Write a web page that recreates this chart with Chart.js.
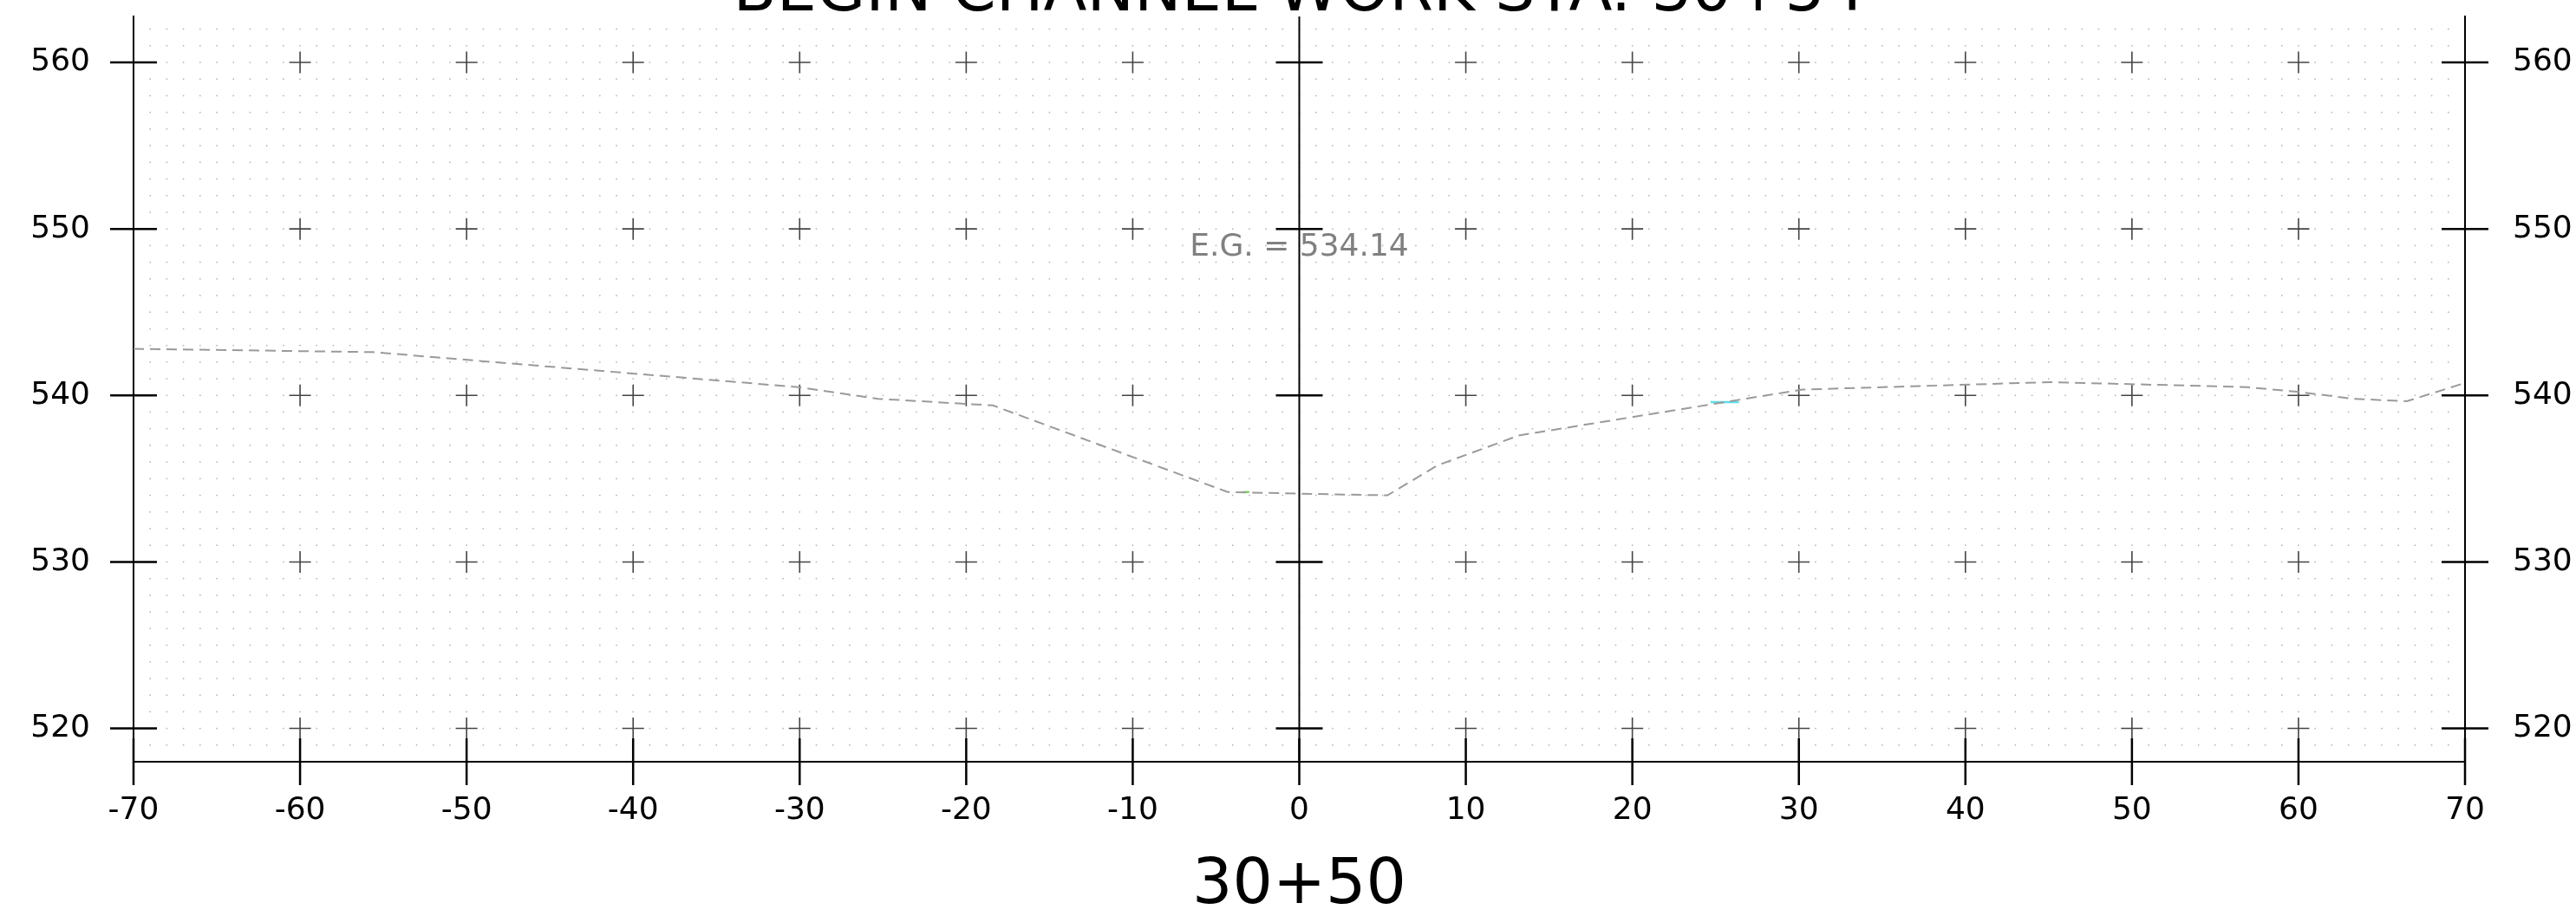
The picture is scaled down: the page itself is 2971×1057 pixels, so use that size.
<!DOCTYPE html>
<html>
<head>
<meta charset="utf-8">
<script src="https://cdn.jsdelivr.net/npm/chart.js@4.4.1/dist/chart.umd.min.js"></script>
<style>
  body { margin: 0; background: #fff; }
  canvas { display: block; }
</style>
</head>
<body>
<canvas id="section" width="2971" height="1057"></canvas>
<script>
// tick labels
const xTicks = [-70, -60, -50, -40, -30, -20, -10, 0, 10, 20, 30, 40, 50, 60, 70];
const yTicks = [520, 530, 540, 550, 560];

// existing ground profile (offset, elevation)
const groundX = [-70, -55.6, -30.1, -25.3, -18.4, -4.3, 0, 5.3, 8.3, 13.2, 30.2, 45.1, 56.9, 60.1, 63.3, 66.5, 70];
const groundY = [542.8, 542.6, 540.5, 539.8, 539.4, 534.2, 534.1, 534.0, 535.8, 537.6, 540.35, 540.8, 540.5, 540.2, 539.8, 539.65, 540.75];

// short water mark and low point mark
const waterX = [24.7, 26.4];
const waterY = [539.6, 539.6];
const lowX = [-3.4, -3.0];
const lowY = [534.2, 534.2];

const titleText = 'BEGIN CHANNEL WORK STA. 30+54';
const stationText = '30+50';
const egText = 'E.G. = 534.14';
const egX = 0;
const egY = 548.9;

function pts(xs, ys) {
    return xs.map((v, i) => ({x: v, y: ys[i]}));
}

Chart.defaults.font.family = 'DejaVu Sans';
Chart.defaults.color = '#000';

// dot grid, crosses, centre line and the double sided ticks
const sheet = {
    id: 'sheet',
    beforeDatasetsDraw(chart) {
        const ctx = chart.ctx;
        const x = chart.scales.x, y = chart.scales.y;
        ctx.save();
        ctx.fillStyle = '#b0b0b0';
        for (let gx = -69; gx <= 69; gx++) {
            for (let gy = 519; gy <= 562; gy++) {
                ctx.fillRect(x.getPixelForValue(gx) - 0.75, y.getPixelForValue(gy) - 0.75, 1.5, 1.5);
            }
        }
        ctx.strokeStyle = '#444';
        ctx.lineWidth = 1.6;
        xTicks.forEach(tx => {
            if (tx === 0 || tx === -70 || tx === 70) return;
            yTicks.forEach(ty => {
                const px = x.getPixelForValue(tx), py = y.getPixelForValue(ty);
                ctx.beginPath();
                ctx.moveTo(px - 12.5, py); ctx.lineTo(px + 12.5, py);
                ctx.moveTo(px, py - 12.5); ctx.lineTo(px, py + 12.5);
                ctx.stroke();
            });
        });
        ctx.restore();
    },
    afterDatasetsDraw(chart) {
        const ctx = chart.ctx;
        const x = chart.scales.x, y = chart.scales.y;
        const area = chart.chartArea;
        const x0 = x.getPixelForValue(0);
        ctx.save();
        ctx.strokeStyle = '#000';
        ctx.lineWidth = 2;
        ctx.beginPath();
        ctx.moveTo(x0, area.top); ctx.lineTo(x0, area.bottom);
        ctx.stroke();
        ctx.lineWidth = 2.5;
        ctx.beginPath();
        xTicks.forEach(tx => {
            const px = x.getPixelForValue(tx);
            ctx.moveTo(px, area.bottom - 27); ctx.lineTo(px, area.bottom + 27);
        });
        yTicks.forEach(ty => {
            const py = y.getPixelForValue(ty);
            [area.left, x0, area.right].forEach(ax => {
                ctx.moveTo(ax - 27, py); ctx.lineTo(ax + 27, py);
            });
        });
        ctx.stroke();

        ctx.textAlign = 'center';
        ctx.textBaseline = 'middle';
        ctx.fillStyle = '#808080';
        ctx.font = '36px "DejaVu Sans"';
        ctx.fillText(egText, x.getPixelForValue(egX), y.getPixelForValue(egY));

        ctx.fillStyle = '#000';
        ctx.font = '73px "DejaVu Sans"';
        ctx.textBaseline = 'alphabetic';
        ctx.fillText(titleText, x0, 12);
        ctx.fillText(stationText, x0, 1042);
        ctx.restore();
    }
};

const ctx = document.getElementById('section');

const yScale = (pos, w, gap) => ({
    type: 'linear',
    position: pos,
    min: 518,
    max: 562.76,
    afterFit: s => { s.width = w; },
    afterBuildTicks: s => { s.ticks = yTicks.map(v => ({value: v})); },
    grid: {display: true, drawOnChartArea: false, drawTicks: true, tickLength: gap, color: 'rgba(0,0,0,0)'},
    border: {display: true, color: '#000', width: 2},
    ticks: {font: {size: 36, lineHeight: 1}, color: '#000', padding: 0}
});

const myChart = new Chart(ctx, {
    type: 'scatter',
    data: {
        datasets: [
            {
                data: pts(groundX, groundY),
                showLine: true,
                borderColor: '#9a9a9a',
                borderWidth: 2,
                borderDash: [12, 7],
                pointRadius: 0,
                tension: 0
            },
            {
                data: pts(waterX, waterY),
                showLine: true,
                borderColor: '#5fdde6',
                borderWidth: 2.5,
                pointRadius: 0
            },
            {
                data: pts(lowX, lowY),
                showLine: true,
                borderColor: '#66cc44',
                borderWidth: 2,
                pointRadius: 0
            }
        ]
    },
    options: {
        responsive: false,
        animation: false,
        layout: {padding: {top: 19}},
        plugins: {legend: {display: false}, tooltip: {enabled: false}},
        scales: {
            x: {
                type: 'linear',
                position: 'bottom',
                min: -70,
                max: 70,
                afterFit: s => { s.height = 178; },
                afterBuildTicks: s => { s.ticks = xTicks.map(v => ({value: v})); },
                grid: {display: false, drawTicks: false},
                border: {display: true, color: '#000', width: 2},
                ticks: {font: {size: 36}, color: '#000', padding: 35}
            },
            y: yScale('left', 154, 50),
            y2: yScale('right', 128, 55)
        }
    },
    plugins: [sheet]
});
</script>
</body>
</html>
